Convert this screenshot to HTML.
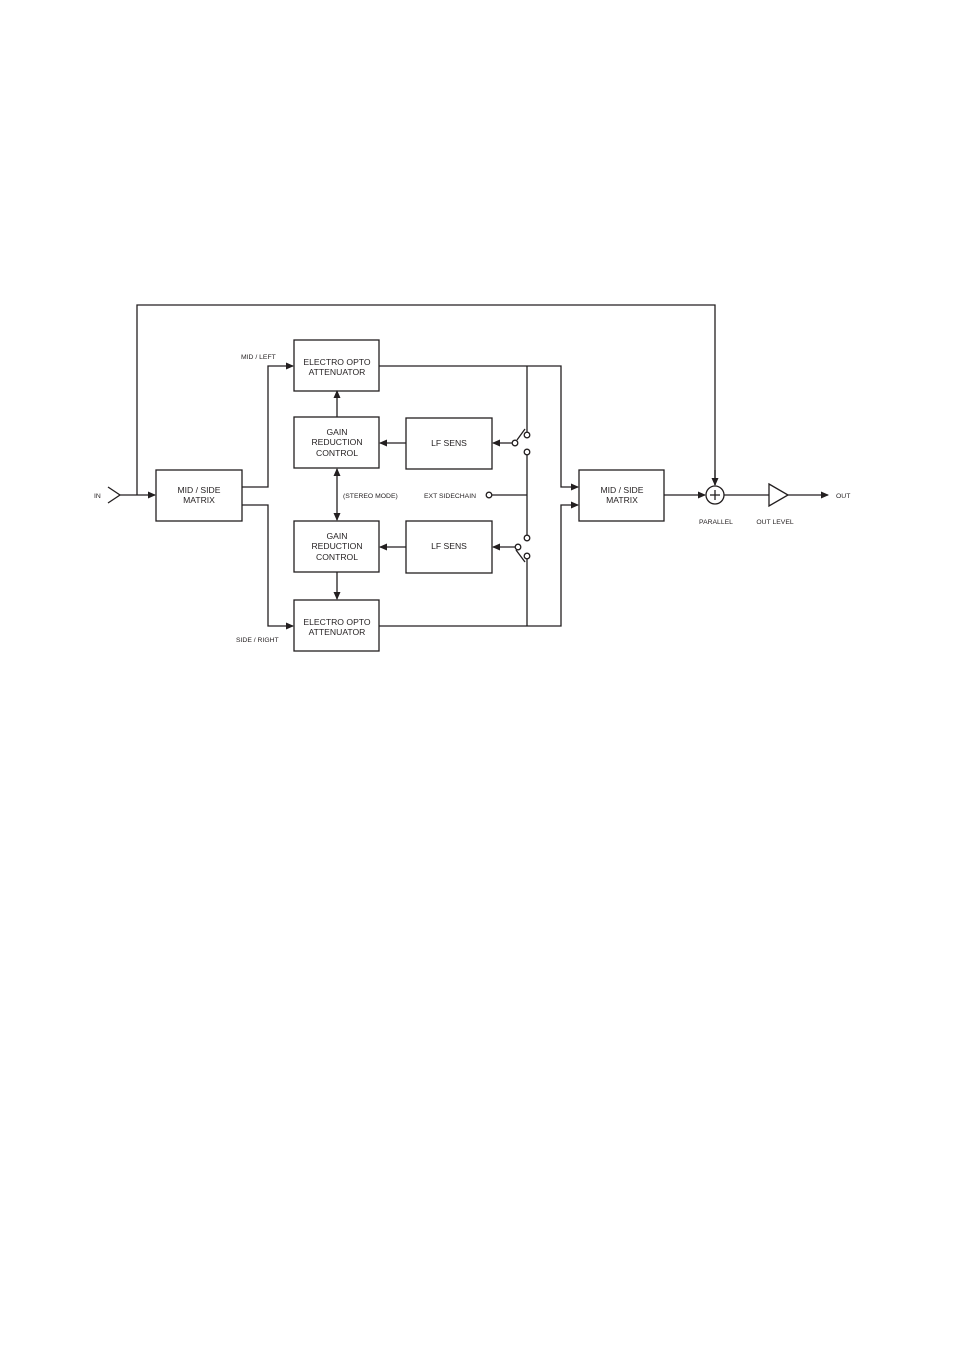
<!DOCTYPE html>
<html><head><meta charset="utf-8"><style>
html,body{margin:0;padding:0;background:#fff;}
svg{display:block;}
text{font-family:"Liberation Sans",sans-serif;fill:#231f20;}
.b{font-size:8.6px;text-anchor:middle;}
.l{font-size:6.8px;}
</style></head><body>
<svg width="954" height="1349" viewBox="0 0 954 1349" xmlns="http://www.w3.org/2000/svg">
<defs><marker id="a" markerWidth="8" markerHeight="8" refX="7" refY="4" orient="auto" markerUnits="userSpaceOnUse"><path d="M0,0.5 L8,4 L0,7.5z" fill="#231f20"/></marker>
<marker id="s" markerWidth="8" markerHeight="8" refX="1" refY="4" orient="auto" markerUnits="userSpaceOnUse"><path d="M8,0.5 L0,4 L8,7.5z" fill="#231f20"/></marker></defs>
<g stroke="#231f20" stroke-width="1.3" fill="none">
<!-- boxes -->
<rect x="156" y="470" width="86" height="51"/>
<rect x="294" y="340" width="85" height="51"/>
<rect x="294" y="417" width="85" height="51"/>
<rect x="406" y="418" width="86" height="51"/>
<rect x="294" y="521" width="85" height="51"/>
<rect x="406" y="521" width="86" height="52"/>
<rect x="294" y="600" width="85" height="51"/>
<rect x="579" y="470" width="85" height="51"/>
<!-- IN -->
<polyline points="108,487 120,495 108,503"/>
<line x1="120" y1="495" x2="155" y2="495" marker-end="url(#a)"/>
<polyline points="137,495 137,305 715,305 715,485" />
<line x1="715" y1="470" x2="715" y2="485" marker-end="url(#a)"/>
<!-- matrix outputs -->
<polyline points="242,487 268,487 268,366 293,366" marker-end="url(#a)"/>
<polyline points="242,505 268,505 268,626 293,626" marker-end="url(#a)"/>
<!-- vertical arrows -->
<line x1="337" y1="417" x2="337" y2="391" marker-end="url(#a)"/>
<line x1="337" y1="469" x2="337" y2="520" marker-start="url(#s)" marker-end="url(#a)"/>
<line x1="337" y1="572" x2="337" y2="599" marker-end="url(#a)"/>
<line x1="406" y1="443" x2="380" y2="443" marker-end="url(#a)"/>
<line x1="406" y1="547" x2="380" y2="547" marker-end="url(#a)"/>
<!-- outputs -->
<polyline points="379,366 561,366 561,487 578,487" marker-end="url(#a)"/>
<polyline points="379,626 561,626 561,505 578,505" marker-end="url(#a)"/>
<line x1="527" y1="366" x2="527" y2="432"/>
<line x1="527" y1="455" x2="527" y2="535"/>
<line x1="527" y1="559" x2="527" y2="626"/>
<line x1="492" y1="495" x2="527" y2="495"/>
<circle cx="489" cy="495" r="2.8"/>
<!-- switches -->
<circle cx="527" cy="435" r="2.8"/><circle cx="515" cy="443" r="2.8"/><circle cx="527" cy="452" r="2.8"/>
<line x1="517" y1="440" x2="525" y2="429"/>
<line x1="512" y1="443" x2="493" y2="443" marker-end="url(#a)"/>
<circle cx="527" cy="538" r="2.8"/><circle cx="518" cy="547" r="2.8"/><circle cx="527" cy="556" r="2.8"/>
<line x1="516" y1="550" x2="525" y2="562"/>
<line x1="515" y1="547" x2="493" y2="547" marker-end="url(#a)"/>
<!-- sum and output -->
<line x1="664" y1="495" x2="705" y2="495" marker-end="url(#a)"/>
<circle cx="715" cy="495" r="9"/>
<line x1="710" y1="495" x2="720" y2="495"/><line x1="715" y1="490" x2="715" y2="500"/>
<line x1="724" y1="495" x2="769" y2="495"/>
<polygon points="769,484 788,495 769,506"/>
<line x1="788" y1="495" x2="828" y2="495" marker-end="url(#a)"/>
</g>
<text class="b" x="199" y="493">MID / SIDE</text><text class="b" x="199" y="503">MATRIX</text>
<text class="b" x="337" y="365">ELECTRO OPTO</text><text class="b" x="337" y="375">ATTENUATOR</text>
<text class="b" x="337" y="435">GAIN</text><text class="b" x="337" y="445">REDUCTION</text><text class="b" x="337" y="456">CONTROL</text>
<text class="b" x="449" y="446">LF SENS</text>
<text class="b" x="337" y="539">GAIN</text><text class="b" x="337" y="549">REDUCTION</text><text class="b" x="337" y="560">CONTROL</text>
<text class="b" x="449" y="549">LF SENS</text>
<text class="b" x="337" y="625">ELECTRO OPTO</text><text class="b" x="337" y="635">ATTENUATOR</text>
<text class="b" x="622" y="493">MID / SIDE</text><text class="b" x="622" y="503">MATRIX</text>
<text class="l" x="94" y="498">IN</text>
<text class="l" x="241" y="359">MID / LEFT</text>
<text class="l" x="236" y="642">SIDE / RIGHT</text>
<text class="l" x="343" y="498">(STEREO MODE)</text>
<text class="l" x="424" y="498">EXT SIDECHAIN</text>
<text class="l" x="716" y="524" text-anchor="middle">PARALLEL</text>
<text class="l" x="775" y="524" text-anchor="middle">OUT LEVEL</text>
<text class="l" x="836" y="498">OUT</text>
</svg>
</body></html>
